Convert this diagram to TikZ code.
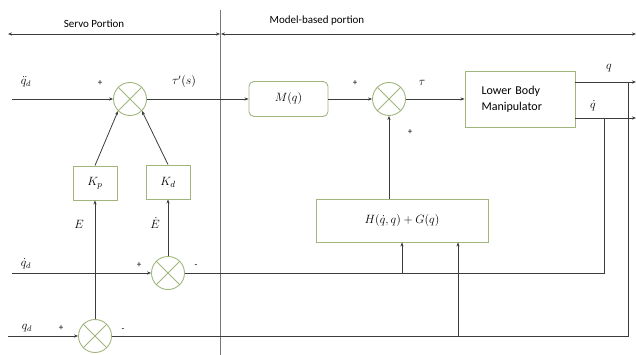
\documentclass[tikz,border=0pt]{standalone}
\usepackage[no-math]{fontspec}
\newfontfamily\calibri{Carlito}
\usetikzlibrary{arrows.meta,calc}
\definecolor{gcol}{RGB}{160,182,125}
\definecolor{lcol}{RGB}{60,60,60}
\definecolor{dcol}{RGB}{120,120,120}
\begin{document}
\begin{tikzpicture}[x=1pt,y=-1pt,
  line/.style={draw=lcol,line width=0.8pt},
  arr/.style={line,-{Stealth[length=4pt,width=3.2pt]}},
  darr/.style={line,{Stealth[length=4pt,width=3.2pt]}-{Stealth[length=4pt,width=3.2pt]}},
  sumc/.style={circle,draw=gcol,line width=0.9pt,minimum size=33pt,inner sep=0pt},
  blk/.style={draw=gcol,line width=0.9pt,inner sep=0pt,align=center,font=\fontsize{12.5}{14}\selectfont},
  lab/.style={inner sep=0pt,font=\fontsize{12}{14}\selectfont},
  sgn/.style={inner sep=0pt,font=\calibri\fontsize{9}{10}\selectfont},
  txt/.style={inner sep=0pt,font=\calibri\fontsize{11}{13}\selectfont}]
\useasboundingbox (0,0) rectangle (636,355);
% divider and portion arrows
\coordinate (dtop) at (220,10);
\coordinate (dbot) at (220,355);
\draw[draw=dcol,line width=1pt] (dtop) -- (dbot);
\coordinate (sa) at (8,34);
\coordinate (sb) at (220,34);
\coordinate (ma) at (221,34);
\coordinate (mb) at (636,34);
\draw[darr] (sa) -- (sb);
\draw[darr] (ma) -- (mb);
\node[txt] (servo) at (94,24) {Servo Portion};
\node[txt] (model) at (317,21) {Model-based portion};
% summing junctions
\node[sumc] (s1) at (130,99) {};
\node[sumc] (s2) at (389,99) {};
\node[sumc] (s3) at (168,273) {};
\node[sumc] (s4) at (95,336) {};
\foreach \s in {s1,s2,s3,s4}{
  \draw[gcol,line width=0.9pt] (\s.north east) -- (\s.south west) (\s.north west) -- (\s.south east);
}
% blocks
\node[blk,rounded corners=5pt,minimum width=79pt,minimum height=35pt] (M) at (288.5,99) {$M(q)$};
\node[blk,draw=gcol,minimum width=110pt,minimum height=56pt,text width=77pt,align=left,font=\calibri\fontsize{12}{16}\selectfont] (LBM) at (520,99) {Lower Body\\Manipulator};
\node[blk,minimum width=172pt,minimum height=43pt] (H) at (402,220.5) {$H(\dot{q},q)+G(q)$};
\node[blk,minimum width=44pt,minimum height=34pt] (Kp) at (95,183) {$K_p$};
\node[blk,minimum width=44pt,minimum height=34pt] (Kd) at (168,182) {$K_d$};
% row 1
\coordinate (in1) at (12,99);
\draw[arr] (in1) -- (s1.west);
\draw[arr] (s1.east) -- (M.west);
\draw[arr] (M.east) -- (s2.west);
\draw[arr] (s2.east) -- (LBM.west);
% outputs
\coordinate (qo) at (636,82);
\coordinate (qdo) at (636,118);
\draw[arr] (LBM.east |- qo) -- (qo);
\draw[arr] (LBM.east |- qdo) -- (qdo);
% feedback
\coordinate (fq) at (628,82);
\coordinate (fqd) at (604,118);
\draw[line] (fq) |- (s4.east);
\draw[line] (fqd) |- (s3.east);
\coordinate (hq) at (458,336);
\draw[arr] (H.south |- s3) -- (H.south);
\draw[arr] (hq) -- (hq |- H.south);
\draw[arr] (H.north -| s2) -- (s2.south);
% gains
\draw[arr] (Kp.north) -- (s1.south west);
\draw[arr] (Kd.north) -- (s1.south east);
\draw[arr] (s4.north) -- (Kp.south);
\draw[arr] (s3.north) -- (Kd.south);
% inputs rows 2,3
\coordinate (in2) at (12,273);
\coordinate (in3) at (8,336);
\draw[arr] (in2) -- (s3.west);
\draw[arr] (in3) -- (s4.west);
% labels
\node[lab] (lqdd) at (26,82) {$\ddot{q}_d$};
\node[sgn] (p1) at (100,83) {+};
\node[lab] (ltau1) at (184,82) {$\tau'(s)$};
\node[sgn] (p2) at (355,83) {+};
\node[lab] (ltau) at (422,83) {$\tau$};
\node[sgn] (p3) at (410,132) {+};
\node[lab] (lq) at (609,68) {$q$};
\node[lab] (lqd) at (593,106) {$\dot{q}$};
\node[lab] (lE) at (79,224) {$E$};
\node[lab] (lEd) at (155,223) {$\dot{E}$};
\node[lab] (lqdin) at (26,264) {$\dot{q}_d$};
\node[sgn] (p4) at (139,265) {+};
\node[sgn] (m1) at (196,266) {-};
\node[lab] (lqin) at (27,328) {$q_d$};
\node[sgn] (p5) at (61,328) {+};
\node[sgn] (m2) at (123,330) {-};
\end{tikzpicture}
\end{document}
